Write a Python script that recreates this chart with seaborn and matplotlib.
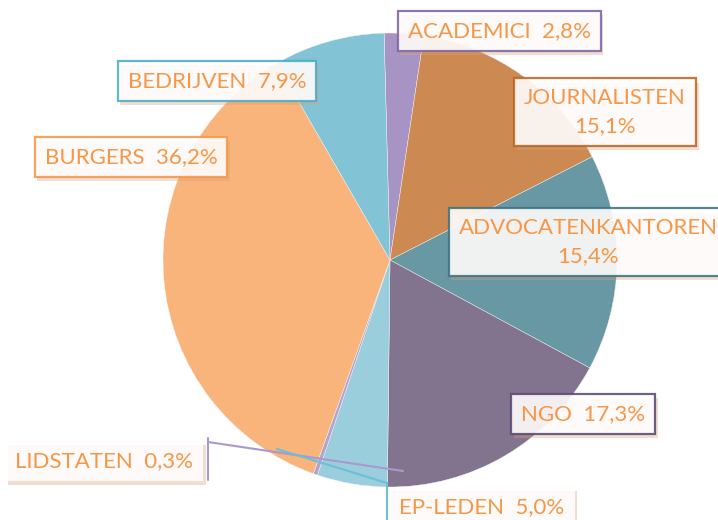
import matplotlib
matplotlib.use('Agg')
import matplotlib.pyplot as plt
import matplotlib.patheffects as pe
import seaborn as sns

# Data
categories = ['ACADEMICI', 'JOURNALISTEN', 'ADVOCATENKANTOREN', 'NGO',
              'EP-LEDEN', 'LIDSTATEN', 'BURGERS', 'BEDRIJVEN']
shares = [2.8, 15.1, 15.4, 17.3, 5.0, 0.3, 36.2, 7.9]
two_line = ['JOURNALISTEN', 'ADVOCATENKANTOREN']

slice_colors = ['#A794C4', '#CC8A52', '#6798A4', '#82748F',
                '#9BCEDD', '#B3A3CF', '#F9B47C', '#82C3D5']
border_colors = ['#8064A2', '#C0651F', '#3F7381', '#5C4872',
                 'none', 'none', '#F79646', '#4BACC6']
text_color = '#F79646'

# label box centres in pixel coords (y from top)
label_pos = {
    'ACADEMICI': (499, 31),
    'JOURNALISTEN': (605, 112),
    'ADVOCATENKANTOREN': (588, 242),
    'NGO': (583, 414),
    'EP-LEDEN': (482, 507),
    'LIDSTATEN': (104, 461),
    'BURGERS': (131, 157),
    'BEDRIJVEN': (217, 81),
}

W, H = 718, 520
sns.set_style('white')
plt.rcParams['font.family'] = ['Lato', 'DejaVu Sans']

fig = plt.figure(figsize=(W / 100, H / 100), dpi=100)
ax = fig.add_axes([0, 0, 1, 1])

ax.pie(shares, colors=slice_colors, startangle=91.5, counterclock=False,
       center=(390, 260), radius=227,
       wedgeprops=dict(linewidth=0.3, edgecolor='#f4f4f4'))
ax.set_xlim(0, W)
ax.set_ylim(0, H)
ax.set_aspect('equal')
ax.axis('off')

# leader lines (Excel style)
ax.plot([208, 208], [H - 438, H - 480], color='#A999CC', lw=1.5)
ax.plot([208, 403], [H - 442, H - 471], color='#A999CC', lw=1.5)
ax.plot([277, 387], [H - 449, H - 483], color='#6BC0D3', lw=1.5)
ax.plot([387, 387], [H - 483, 0], color='#6BC0D3', lw=1.5)

shadow = [pe.SimplePatchShadow(offset=(2, -3), shadow_rgbFace='#d9a27a', alpha=0.35),
          pe.Normal()]

for cat, val, ec in zip(categories, shares, border_colors):
    pct = f'{val:.1f}'.replace('.', ',') + '%'
    txt = f'{cat}\n{pct}' if cat in two_line else f'{cat}  {pct}'
    x, y = label_pos[cat]
    t = ax.text(x, H - y, txt, ha='center', va='center', color=text_color,
                fontsize=16, linespacing=1.45,
                bbox=dict(boxstyle='square,pad=0.45', facecolor='white',
                          alpha=0.88, edgecolor=ec, linewidth=1.6))
    t.get_bbox_patch().set_path_effects(shadow)

fig.savefig('out.png', dpi=100)
